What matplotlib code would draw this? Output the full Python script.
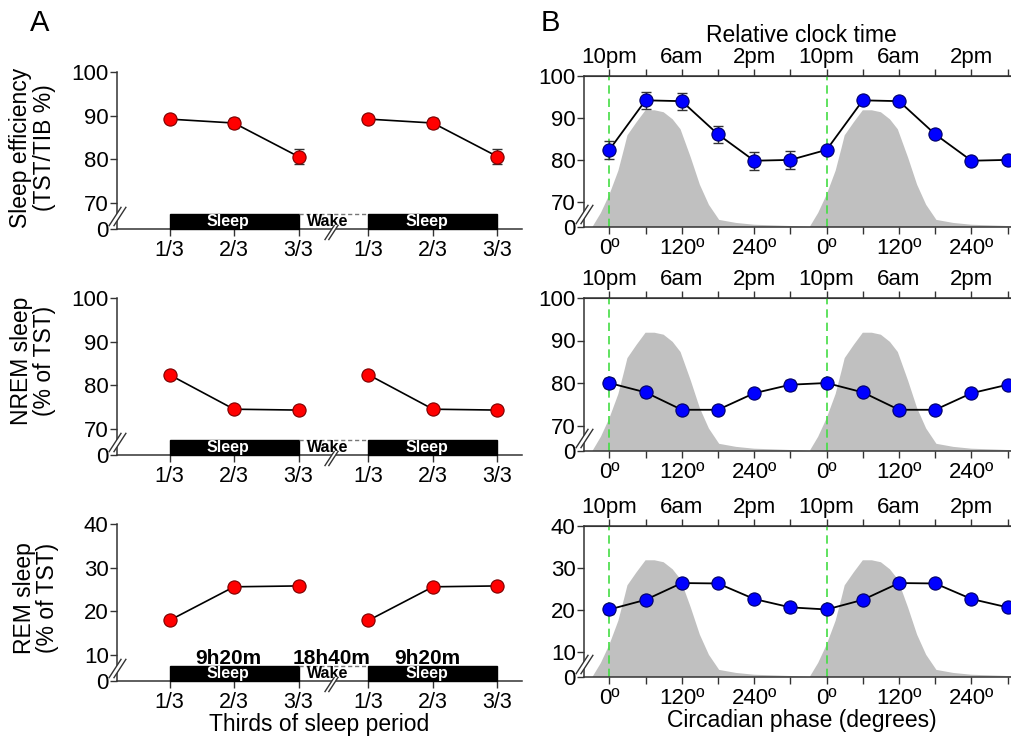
import numpy as np
import matplotlib.pyplot as plt
from matplotlib.patches import Rectangle, Polygon
from matplotlib.path import Path
from matplotlib.transforms import ScaledTranslation

plt.rcParams['font.family'] = ['Liberation Sans', 'DejaVu Sans']

# ---- data ----
# panel A: thirds of the sleep period (one 9h20m sleep, plotted twice)
thirds = ['1/3', '2/3', '3/3']
se_thirds = [89.2, 88.3, 80.6]
se_thirds_err = [1.0, 1.1, 1.8]
nrem_thirds = [82.4, 74.5, 74.3]
nrem_thirds_err = [0.8, 0.8, 0.9]
rem_thirds = [17.9, 25.6, 25.8]
rem_thirds_err = [0.9, 0.8, 0.9]
sleep_len = '9h20m'
wake_len = '18h40m'

# panel B: circadian phase bins (double plotted)
phase = [0, 60, 120, 180, 240, 300]
se_phase = [82.4, 94.2, 94.0, 86.1, 79.8, 80.0]
se_phase_err = [2.2, 2.1, 2.0, 2.0, 2.1, 2.2]
nrem_phase = [80.0, 77.8, 73.7, 73.7, 77.6, 79.6]
nrem_phase_err = [1.2, 1.0, 1.0, 1.0, 1.0, 1.2]
rem_phase = [20.1, 22.4, 26.4, 26.3, 22.6, 20.6]
rem_phase_err = [1.0, 0.9, 0.9, 0.9, 0.9, 1.0]
deg_labels = ['0º', '120º', '240º', '0º', '120º', '240º']
clock_labels = ['10pm', '6am', '2pm', '10pm', '6am', '2pm']

# grey background curve (share of axis height, %)
grey_phase = [-28, -14, 0, 15, 25, 30, 45, 60, 75, 90, 105, 118, 135, 150, 165, 182, 210, 240, 270, 310, 332]
grey_level = [0, 9.3, 21.3, 37.3, 52.7, 60.7, 69.3, 77.3, 77.3, 76, 71.3, 64.7, 46, 28, 14.7, 4.7, 2.7, 1.5, 1.1, 0.5, 0]

AX = '#333333'
W, H = 1011, 742


def rect(l, t, r, b):
    return [l / W, 1 - b / H, (r - l) / W, (b - t) / H]


def broken_scale(b, g=6.0):
    def fwd(y):
        y = np.asarray(y, dtype=float)
        return np.where(y >= b, y, b - g + y * g / b)

    def inv(v):
        v = np.asarray(v, dtype=float)
        return np.where(v >= b, v, (v - b + g) * b / g)
    return fwd, inv


slash = Path([(-9, -10), (4, 10), (-4, -10), (9, 10)],
             [Path.MOVETO, Path.LINETO, Path.MOVETO, Path.LINETO])
gap = Path([(-9, -10), (4, 10), (9, 10), (-4, -10), (-9, -10)])


def draw_break(ax, x, y, trans, ms):
    ax.plot([x], [y], marker=gap, ms=ms, mfc='white', mec='none',
            transform=trans, clip_on=False, zorder=6)
    ax.plot([x], [y], marker=slash, ms=ms, mfc='none', mec=AX, mew=1,
            transform=trans, clip_on=False, zorder=7)


rows = [
    dict(ylabel='Sleep efficiency\n(TST/TIB %)', a=se_thirds, aerr=se_thirds_err,
         b=se_phase, berr=se_phase_err, top=100, brk=70, ticks=[0, 70, 80, 90, 100],
         ra=(72, 229), rb=(76, 227), lab=(32.5, 148)),
    dict(ylabel='NREM sleep\n(% of TST)', a=nrem_thirds, aerr=nrem_thirds_err,
         b=nrem_phase, berr=nrem_phase_err, top=100, brk=70, ticks=[0, 70, 80, 90, 100],
         ra=(298, 455), rb=(298, 451), lab=(33, 361)),
    dict(ylabel='REM sleep\n(% of TST)', a=rem_thirds, aerr=rem_thirds_err,
         b=rem_phase, berr=rem_phase_err, top=40, brk=10, ticks=[0, 10, 20, 30, 40],
         ra=(524, 681), rb=(526, 677), lab=(36, 598)),
]

fig = plt.figure(figsize=(W / 100, H / 100), dpi=100)

x1 = np.arange(3)
x2 = np.arange(3) + 3.085

for i, r in enumerate(rows):
    # ---------------- panel A ----------------
    ax = fig.add_axes(rect(117, r['ra'][0], 522, r['ra'][1]))
    ax.set_yscale('function', functions=broken_scale(r['brk']))
    for xs in (x1, x2):
        ax.errorbar(xs, r['a'], yerr=r['aerr'], fmt='none', ecolor=AX, elinewidth=1,
                    capsize=3.5, capthick=1, zorder=3)
        ax.plot(xs, r['a'], '-', color='black', lw=1.2, zorder=3)
        ax.plot(xs, r['a'], 'o', ms=9.5, mfc='#ff0000', mec='#7a0000', mew=0.8, zorder=4)
    ax.set_xlim(-0.814, 5.465)
    ax.set_ylim(0, r['top'])
    ax.set_yticks(r['ticks'])
    ax.set_xticks(np.concatenate([x1, x2]), thirds + thirds)
    for s in ('top', 'right'):
        ax.spines[s].set_visible(False)
    for s in ('left', 'bottom'):
        ax.spines[s].set_color(AX)
        ax.spines[s].set_linewidth(1.1)
    ax.tick_params(axis='y', direction='out', length=5, width=1, color=AX, labelsize=16, pad=1)
    ax.tick_params(axis='x', direction='out', length=5, width=1, color=AX, labelsize=15.5, pad=3)

    # sleep / wake schedule bar
    tr = ax.get_xaxis_transform()
    bar_h = 15 / 157
    for xs in (x1, x2):
        ax.add_patch(Rectangle((xs[0], 0), xs[-1] - xs[0], bar_h, transform=tr,
                               fc='black', ec='black', lw=1, zorder=3, clip_on=False))
        ax.text((xs[0] + xs[-1]) / 2 - 0.09, bar_h / 2, 'Sleep', transform=tr, color='white',
                fontsize=11.5, fontweight='bold', ha='center', va='center', zorder=5)
    ax.plot([x1[-1], x2[0]], [bar_h, bar_h], transform=tr, color='#777777', lw=1,
            ls=(0, (3, 2)), zorder=3)
    ax.text((x1[-1] + x2[0]) / 2 - 0.09, bar_h / 2, 'Wake', transform=tr, color='black',
            fontsize=11.5, fontweight='bold', ha='center', va='center', zorder=5)
    if i == 2:
        for xs, txt in ((x1, sleep_len), (x2, sleep_len)):
            ax.text((xs[0] + xs[-1]) / 2 - 0.09, bar_h + 0.015, txt, transform=tr,
                    fontsize=15, fontweight='bold', ha='center', va='baseline')
        ax.text((x1[-1] + x2[0]) / 2 - 0.03, bar_h + 0.015, wake_len, transform=tr,
                fontsize=15, fontweight='bold', ha='center', va='baseline')
        ax.set_xlabel('Thirds of sleep period', fontsize=16.5, labelpad=0)

    draw_break(ax, 0, r['brk'] / 2, ax.get_yaxis_transform(), 14)
    draw_break(ax, 2.5, 0, ax.transData + ScaledTranslation(0, -3 / 100, fig.dpi_scale_trans), 11)

    fig.text(r['lab'][0] / W, 1 - r['lab'][1] / H, r['ylabel'], rotation=90, ha='center',
             va='center', multialignment='center', linespacing=1.02, fontsize=16.5)

    # ---------------- panel B ----------------
    bx = fig.add_axes(rect(584, r['rb'][0], 584 + 722 * 0.6035, r['rb'][1]))
    bx.set_yscale('function', functions=broken_scale(r['brk']))
    xb = np.concatenate([phase, np.array(phase) + 360])
    yb = np.concatenate([r['b'], r['b']])
    for k in (0, 360):
        gx = np.array(grey_phase) + k
        gy = np.array(grey_level) / 100
        verts = list(zip(gx, gy)) + [(gx[-1], 0), (gx[0], 0)]
        bx.add_patch(Polygon(verts, closed=True, transform=bx.get_xaxis_transform(),
                             fc='#c0c0c0', ec='none', zorder=0.5))
        bx.axvline(k, color='#44dd44', lw=1.2, ls=(0, (5, 3)), zorder=1)
    bx.errorbar(phase, r['b'], yerr=r['berr'], fmt='none', ecolor=AX, elinewidth=1,
                capsize=3.5, capthick=1, zorder=3)
    bx.plot(xb, yb, '-', color='black', lw=1.3, zorder=3)
    bx.plot(xb, yb, 'o', ms=9.5, mfc='#0000ff', mec='#000066', mew=0.8, zorder=4)
    bx.set_xlim(-42, 680)
    bx.set_ylim(0, r['top'])
    bx.set_yticks(r['ticks'])
    major = [0, 120, 240, 360, 480, 600]
    minor = [60, 180, 300, 420, 540, 660]
    bx.set_xticks(major, deg_labels)
    bx.set_xticks(minor, minor=True)
    bx.spines['right'].set_visible(False)
    for s in ('left', 'bottom', 'top'):
        bx.spines[s].set_color(AX)
        bx.spines[s].set_linewidth(1.1)
    bx.tick_params(axis='y', direction='out', length=5, width=1, color=AX, labelsize=16, pad=1)
    bx.tick_params(axis='x', which='both', direction='out', length=5, width=1, color=AX,
                   labelsize=16, pad=3)
    sec = bx.secondary_xaxis('top')
    sec.set_xticks(major, clock_labels)
    sec.set_xticks(minor, minor=True)
    sec.spines['top'].set_color(AX)
    sec.tick_params(which='both', direction='out', length=5, width=1, color=AX,
                    labelsize=16, pad=1)
    draw_break(bx, 0, r['brk'] / 2, bx.get_yaxis_transform(), 14)
    if i == 0:
        sec.set_xlabel('Relative clock time', fontsize=16.5, labelpad=3)
    if i == 2:
        bx.set_xlabel('Circadian phase (degrees)', fontsize=16.5, labelpad=0)

fig.text(40 / W, 1 - 23 / H, 'A', fontsize=21, ha='center', va='center')
fig.text(550 / W, 1 - 23 / H, 'B', fontsize=21, ha='center', va='center')

fig.savefig('out.png', dpi=100)
